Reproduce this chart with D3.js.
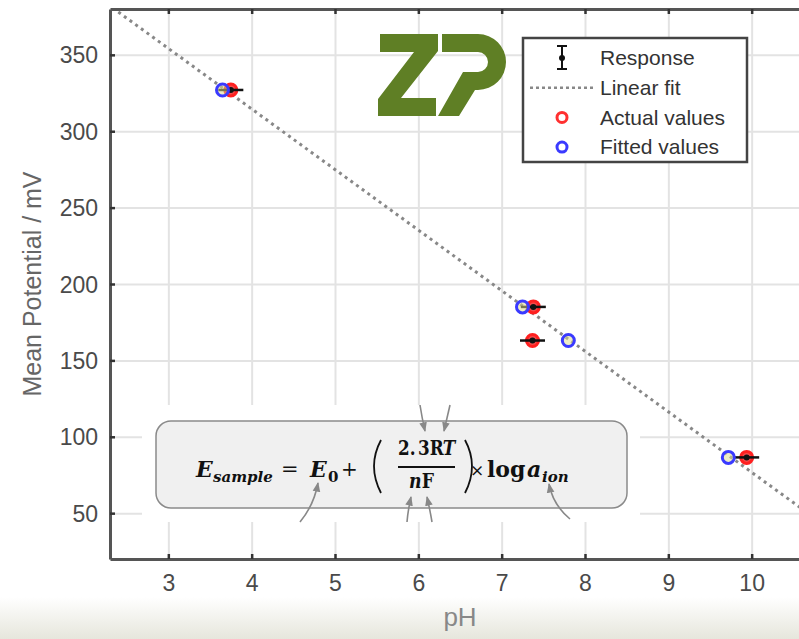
<!DOCTYPE html>
<html>
<head>
<meta charset="utf-8">
<script src="https://cdn.jsdelivr.net/npm/d3@7"></script>
<style>
  body { margin: 0; background: #fff; }
  svg { display: block; }
</style>
</head>
<body>
<script>
// values
const actualPH = [3.75, 7.38, 7.37, 9.94];
const actualMV = [327, 185, 163, 86.5];
const fittedPH = [3.65, 7.25, 7.80, 9.72];
const fittedMV = [327, 185, 163, 86.5];
const errPH = [0.15, 0.15, 0.15, 0.15];
const fitPH = [2.4, 10.7];
const fitMV = [378, 49];
const xTicks = [3, 4, 5, 6, 7, 8, 9, 10];
const yTicks = [50, 100, 150, 200, 250, 300, 350];
const legendLabels = ["Response", "Linear fit", "Actual values", "Fitted values"];

const W = 799, H = 639;
const plot = {left: 110, top: 9, right: 810, bottom: 559};

const svg = d3.select("body").append("svg").attr("width", W).attr("height", H);

const defs = svg.append("defs");
defs.append("clipPath").attr("id", "clip")
  .append("rect").attr("x", plot.left).attr("y", plot.top)
  .attr("width", W - plot.left).attr("height", plot.bottom - plot.top);
const grad = defs.append("linearGradient").attr("id", "fade")
  .attr("x1", 0).attr("y1", 0).attr("x2", 0).attr("y2", 1);
grad.append("stop").attr("offset", "0%").attr("stop-color", "#ffffff");
grad.append("stop").attr("offset", "100%").attr("stop-color", "#e6e6dc");

svg.append("rect").attr("width", W).attr("height", H).attr("fill", "#fff");
svg.append("rect").attr("x", 0).attr("y", 597).attr("width", W).attr("height", H - 597)
  .attr("fill", "url(#fade)");

const x = d3.scaleLinear().domain([2.3, 10.7]).range([plot.left, plot.right]);
const y = d3.scaleLinear().domain([20, 380]).range([plot.bottom, plot.top]);

// grid
const grid = svg.append("g").attr("clip-path", "url(#clip)");
grid.append("g").attr("transform", `translate(0,${plot.bottom})`)
  .call(d3.axisBottom(x).tickValues(xTicks).tickSize(-(plot.bottom - plot.top)).tickFormat(""))
  .call(g => g.select(".domain").remove())
  .call(g => g.selectAll("line").attr("stroke", "#e3e3e3").attr("stroke-width", 2));
grid.append("g").attr("transform", `translate(${plot.left},0)`)
  .call(d3.axisLeft(y).tickValues(yTicks).tickSize(-(plot.right - plot.left)).tickFormat(""))
  .call(g => g.select(".domain").remove())
  .call(g => g.selectAll("line").attr("stroke", "#e3e3e3").attr("stroke-width", 2));

// axes
const axisColor = "#555";
const styleAxis = g => {
  g.select(".domain").attr("stroke", axisColor).attr("stroke-width", 3);
  g.selectAll(".tick line").attr("stroke", "#333").attr("stroke-width", 2.5);
  g.selectAll(".tick text").attr("fill", "#4a4a4a")
    .attr("font-family", "Liberation Sans, Arial, sans-serif").attr("font-size", 23);
};
svg.append("g").attr("transform", `translate(0,${plot.bottom})`)
  .call(d3.axisBottom(x).tickValues(xTicks).tickSize(-5).tickSizeOuter(0).tickPadding(16))
  .call(styleAxis);
svg.append("g").attr("transform", `translate(0,${plot.top})`)
  .call(d3.axisTop(x).tickValues(xTicks).tickSize(-5).tickSizeOuter(0).tickFormat(""))
  .call(styleAxis);
svg.append("g").attr("transform", `translate(${plot.left},0)`)
  .call(d3.axisLeft(y).tickValues(yTicks).tickSize(-5).tickSizeOuter(0).tickPadding(12))
  .call(styleAxis)
  .call(g => g.selectAll(".tick text").attr("dy", "0.35em"));

// axis labels
svg.append("text").attr("x", (plot.left + plot.right) / 2).attr("y", 626)
  .attr("text-anchor", "middle").attr("fill", "#888")
  .attr("font-family", "Liberation Sans, Arial, sans-serif").attr("font-size", 26)
  .text("pH");
svg.append("text")
  .attr("transform", `translate(41,${(plot.top + plot.bottom) / 2}) rotate(-90)`)
  .attr("text-anchor", "middle").attr("fill", "#666")
  .attr("font-family", "Liberation Sans, Arial, sans-serif").attr("font-size", 25)
  .text("Mean Potential / mV");

// logo
const logo = svg.append("g").attr("fill", "#5f7f25");
logo.append("path").attr("d", "M380,34 H438 V51 L401,98 H436 V116 H378 V99 L414,52 H380 Z");
logo.append("path").attr("fill-rule", "evenodd")
  .attr("d", "M442,34 H478 A28,28 0 0 1 478,90 H475 L459,116 H438 L463,72 H478 A10,10 0 0 0 478,52 H442 Z");

// data marks
const marks = svg.append("g").attr("clip-path", "url(#clip)");
marks.append("path")
  .attr("d", d3.line()([[x(fitPH[0]), y(fitMV[0])], [x(fitPH[1]), y(fitMV[1])]]))
  .attr("stroke", "#888").attr("stroke-width", 3).attr("stroke-dasharray", "3,4").attr("fill", "none");

const idx = d3.range(actualPH.length);
marks.selectAll(".act").data(idx).enter().append("circle")
  .attr("cx", i => x(actualPH[i])).attr("cy", i => y(actualMV[i])).attr("r", 6)
  .attr("fill", "rgba(240,30,30,0.8)").attr("stroke", "#ff2020").attr("stroke-width", 3);
marks.selectAll(".err").data(idx).enter().append("line")
  .attr("x1", i => x(actualPH[i] - errPH[i])).attr("x2", i => x(actualPH[i] + errPH[i]))
  .attr("y1", i => y(actualMV[i])).attr("y2", i => y(actualMV[i]))
  .attr("stroke", "#111").attr("stroke-width", 2.5);
marks.selectAll(".dot").data(idx).enter().append("circle")
  .attr("cx", i => x(actualPH[i])).attr("cy", i => y(actualMV[i])).attr("r", 3)
  .attr("fill", "#111");
marks.selectAll(".fit").data(idx).enter().append("circle")
  .attr("cx", i => x(fittedPH[i])).attr("cy", i => y(fittedMV[i])).attr("r", 6)
  .attr("fill", "rgba(220,220,140,0.5)").attr("stroke", "#3a3aff").attr("stroke-width", 3);

// legend
const lg = svg.append("g");
lg.append("rect").attr("x", 523).attr("y", 38).attr("width", 224).attr("height", 124)
  .attr("fill", "#fff").attr("stroke", "#444").attr("stroke-width", 2.5);
const rowY = i => 58 + i * 29.7;
lg.selectAll("text").data(legendLabels).enter().append("text")
  .attr("x", 600).attr("y", (d, i) => rowY(i)).attr("dy", "0.35em")
  .attr("fill", "#333").attr("font-family", "Liberation Sans, Arial, sans-serif")
  .attr("font-size", 21).text(d => d);
// response symbol
lg.append("line").attr("x1", 562).attr("x2", 562).attr("y1", rowY(0) - 12).attr("y2", rowY(0) + 11)
  .attr("stroke", "#111").attr("stroke-width", 2);
[rowY(0) - 12, rowY(0) + 11].forEach(v => lg.append("line")
  .attr("x1", 557).attr("x2", 567).attr("y1", v).attr("y2", v)
  .attr("stroke", "#111").attr("stroke-width", 2));
lg.append("circle").attr("cx", 562).attr("cy", rowY(0)).attr("r", 3).attr("fill", "#111");
lg.append("line").attr("x1", 530).attr("x2", 594).attr("y1", rowY(1)).attr("y2", rowY(1))
  .attr("stroke", "#888").attr("stroke-width", 2.5).attr("stroke-dasharray", "3,3");
lg.append("circle").attr("cx", 562).attr("cy", rowY(2)).attr("r", 5)
  .attr("fill", "none").attr("stroke", "#ff3030").attr("stroke-width", 3);
lg.append("circle").attr("cx", 562).attr("cy", rowY(3)).attr("r", 5)
  .attr("fill", "none").attr("stroke", "#3a3aff").attr("stroke-width", 3);

// equation panel
const eq = svg.append("g");
eq.append("rect").attr("x", 142).attr("y", 405).attr("width", 498).attr("height", 117).attr("fill", "#fff");
eq.append("rect").attr("x", 156).attr("y", 421).attr("width", 471).attr("height", 87)
  .attr("rx", 15).attr("fill", "#f0f0f0").attr("stroke", "#8a8a8a").attr("stroke-width", 1.5);

const serif = "DejaVu Serif, Liberation Serif, serif";
const piece = (parent, px, py, str, size, italic, bold = true) => parent.append("text")
  .attr("x", px).attr("y", py).attr("font-family", serif)
  .attr("font-weight", bold ? "bold" : "normal")
  .attr("font-style", italic ? "italic" : "normal").attr("font-size", size)
  .attr("fill", "#111").text(str);

piece(eq, 196, 477, "E", 22, true);
piece(eq, 213, 482, "sample", 15, true);
piece(eq, 281, 476, "=", 21, false, false);
piece(eq, 310, 477, "E", 22, true);
piece(eq, 328, 482, "0", 15, false);
piece(eq, 341, 476, "+", 20, false, false);

// fraction, squeezed sideways to the widths in the picture
const numG = eq.append("g").attr("transform", "translate(398,0) scale(0.8,1)");
piece(numG, 0, 455, "2.", 21, false);
piece(numG, 25, 455, "3R", 21, false);
piece(numG, 56, 455, "T", 21, true);
eq.append("line").attr("x1", 398).attr("x2", 455).attr("y1", 467).attr("y2", 467)
  .attr("stroke", "#111").attr("stroke-width", 2);
const denG = eq.append("g").attr("transform", "translate(409,0) scale(0.82,1)");
piece(denG, 0, 488, "n", 21, true);
piece(denG, 15.5, 488, "F", 21, false);

eq.append("path").attr("d", "M381,440 Q367,466 381,493").attr("fill", "none")
  .attr("stroke", "#111").attr("stroke-width", 1.8);
eq.append("path").attr("d", "M465,440 Q479,466 465,493").attr("fill", "none")
  .attr("stroke", "#111").attr("stroke-width", 1.8);
piece(eq, 470, 476, "\u00d7", 17, false, false);
piece(eq, 487, 477, "log", 22, false);
piece(eq, 527, 477, "a", 22, true);
piece(eq, 542, 482, "ion", 15, true);

// pointer arrows
defs.append("marker").attr("id", "head").attr("viewBox", "0 0 10 10")
  .attr("refX", 9).attr("refY", 5).attr("markerWidth", 6).attr("markerHeight", 6)
  .attr("orient", "auto")
  .append("path").attr("d", "M0,1 L10,5 L0,9 Z").attr("fill", "#888");
const arrows = [
  "M420,405 Q422,418 425,431",
  "M450,405 Q447,418 444,431",
  "M300,522 Q314,505 318,483",
  "M407,522 Q408,510 411,497",
  "M432,522 Q430,510 427,497",
  "M570,519 Q553,505 549,484"
];
eq.selectAll(".arrow").data(arrows).enter().append("path")
  .attr("d", d => d).attr("fill", "none").attr("stroke", "#888").attr("stroke-width", 1.6)
  .attr("marker-end", "url(#head)");
</script>
</body>
</html>
